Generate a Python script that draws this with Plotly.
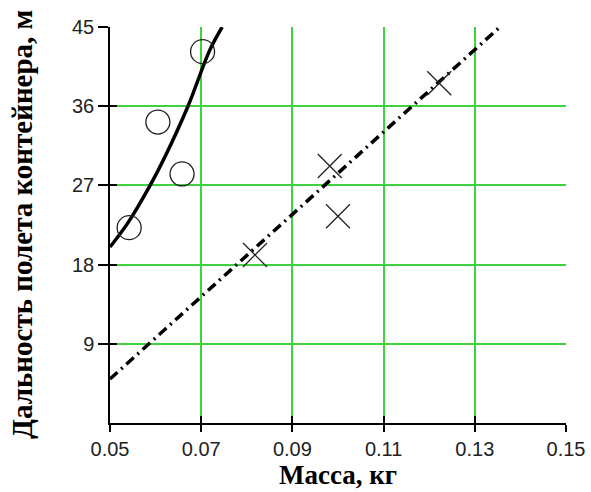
import plotly.graph_objects as go

# Experimental points
circle_mass = [0.0542, 0.0605, 0.0658, 0.0703]
circle_range = [22.2, 34.2, 28.3, 42.2]

cross_mass = [0.0818, 0.0982, 0.1000, 0.1222]
cross_range = [19.1, 29.2, 23.5, 38.6]

# Fitted curves
curve_mass = [0.05, 0.054, 0.0588, 0.062, 0.0671, 0.0719, 0.0746]
curve_range = [20.0, 22.8, 27.0, 30.2, 36.0, 42.4, 45.0]

line_mass = [0.05, 0.1355]
line_range = [5.0, 45.0]

x_ticks = [0.05, 0.07, 0.09, 0.11, 0.13, 0.15]
x_labels = ["0.05", "0.07", "0.09", "0.11", "0.13", "0.15"]
y_ticks = [9, 18, 27, 36, 45]

x_title = "Масса, кг"
y_title = "Дальность полета контейнера, м"

GRID = "#3fd23f"
INK = "#000000"

fig = go.Figure()

fig.add_trace(go.Scatter(x=curve_mass, y=curve_range, mode="lines",
                         line=dict(color=INK, width=3.5, shape="spline"),
                         showlegend=False, hoverinfo="skip"))
fig.add_trace(go.Scatter(x=line_mass, y=line_range, mode="lines",
                         line=dict(color=INK, width=3.5, dash="10px,5px,2px,5px"),
                         showlegend=False, hoverinfo="skip"))
fig.add_trace(go.Scatter(x=circle_mass, y=circle_range, mode="markers",
                         marker=dict(symbol="circle-open", size=24, color="#222222",
                                     line=dict(width=1.3)),
                         showlegend=False))
fig.add_trace(go.Scatter(x=cross_mass, y=cross_range, mode="markers",
                         marker=dict(symbol="x-thin-open", size=24, color="#222222",
                                     line=dict(width=1.3)),
                         showlegend=False))

tickfont = dict(family="Liberation Sans, Arial, sans-serif", size=20, color="#222222")
titlefont = dict(family="Liberation Serif, Times New Roman, serif", color=INK)

fig.update_layout(
    width=591, height=492,
    margin=dict(l=110, r=25, t=27, b=69, autoexpand=False),
    paper_bgcolor="white", plot_bgcolor="white",
    xaxis=dict(range=[0.05, 0.15], tickvals=x_ticks, ticktext=x_labels,
               showgrid=True, gridcolor=GRID, gridwidth=1.6,
               showline=True, linecolor=INK, linewidth=1.5,
               ticks="outside", ticklen=7, tickwidth=1.5, tickcolor=INK,
               tickfont=tickfont, zeroline=False, automargin=False),
    yaxis=dict(range=[0, 45], tickvals=y_ticks,
               showgrid=True, gridcolor=GRID, gridwidth=1.6,
               showline=True, linecolor=INK, linewidth=1.5,
               ticks="outside", ticklen=10, tickwidth=1.5, tickcolor=INK,
               tickfont=tickfont, zeroline=False, automargin=False),
    xaxis2=dict(overlaying="x", matches="x", range=[0.05, 0.15], tickvals=x_ticks,
                ticks="inside", ticklen=7, tickwidth=1.5, tickcolor=INK,
                showticklabels=False, showgrid=False, zeroline=False, showline=False,
                side="bottom", anchor="y", automargin=False),
    yaxis2=dict(overlaying="y", matches="y", range=[0, 45], tickvals=y_ticks,
                ticks="inside", ticklen=7, tickwidth=1.5, tickcolor=INK,
                showticklabels=False, showgrid=False, zeroline=False, showline=False,
                side="left", anchor="x", automargin=False),
    annotations=[
        dict(text="<b>" + x_title + "</b>", xref="paper", yref="paper", x=0.5, y=0,
             xanchor="center", yanchor="bottom", yshift=-68, borderpad=0,
             showarrow=False, font=dict(size=27, **titlefont)),
        dict(text="<b>" + y_title + "</b>", xref="paper", yref="paper", x=0, y=0.5,
             xanchor="center", yanchor="middle", xshift=-88, textangle=-90,
             showarrow=False, font=dict(size=29, **titlefont)),
    ],
)

# invisible trace to activate the inner-tick axes
fig.add_trace(go.Scatter(x=[0.1], y=[20], xaxis="x2", yaxis="y2", mode="markers",
                         marker=dict(opacity=0), showlegend=False, hoverinfo="skip"))

fig.write_html("out.html", config={"displayModeBar": False},
               post_script="document.body.style.margin='0';document.body.style.overflow='hidden';")
